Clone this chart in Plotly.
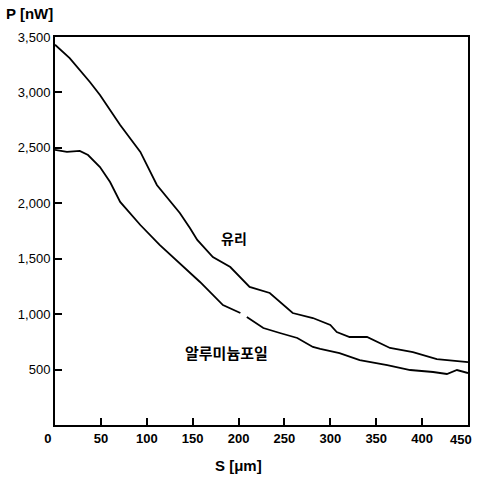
import plotly.graph_objects as go

# Upper curve (유리 / glass)
glass_x = [0, 16, 38, 49, 71, 93, 111, 136, 147, 155, 172, 191, 212, 234, 259, 281, 300, 307, 321, 340, 365, 390, 416, 450]
glass_y = [3430, 3310, 3094, 2977, 2706, 2463, 2165, 1912, 1777, 1669, 1515, 1425, 1245, 1191, 1010, 965, 902, 839, 794, 794, 695, 658, 595, 568]

# Lower curve (알루미늄포일 / aluminium foil), small gap near 205 um
foil_x = [0, 13, 27, 36, 49, 60, 71, 93, 114, 136, 158, 183, 202, 205, 209, 227, 245, 264, 281, 289, 310, 332, 362, 387, 412, 427, 438, 450]
foil_y = [2481, 2463, 2472, 2435, 2327, 2192, 2012, 1804, 1624, 1461, 1290, 1082, 1010, None, 974, 875, 830, 785, 704, 686, 649, 586, 541, 496, 478, 460, 496, 469]

x_ticks = [0, 50, 100, 150, 200, 250, 300, 350, 400, 450]
x_labels = ["0", "50", "100", "150", "200", "250", "300", "350", "400", "450"]
y_ticks = [500, 1000, 1500, 2000, 2500, 3000, 3500]

font_family = "Liberation Sans, Arial"

# first label sits left of the origin; last label is drawn right-aligned at the edge
tick_text = [x_labels[0] + "\u00a0\u00a0\u00a0\u00a0"] + x_labels[1:-1] + [""]

fig = go.Figure()
fig.add_trace(go.Scatter(x=glass_x, y=glass_y, mode="lines",
                         line=dict(color="black", width=1.8), showlegend=False))
fig.add_trace(go.Scatter(x=foil_x, y=foil_y, mode="lines", connectgaps=False,
                         line=dict(color="black", width=1.8), showlegend=False))

fig.update_layout(
    width=479, height=481,
    margin=dict(l=55, r=11, t=37, b=56, autoexpand=False),
    paper_bgcolor="white", plot_bgcolor="white",
    font=dict(family=font_family, size=13, color="black"),
    xaxis=dict(range=[0, 450], tickvals=x_ticks, ticktext=tick_text, ticks="inside",
               ticklen=7, tickwidth=1.5, tickcolor="black", showgrid=False,
               zeroline=False, showline=True, linecolor="black", linewidth=2,
               mirror=True, automargin=False, ticklabeloverflow="allow",
               tickfont=dict(size=13, family=font_family, weight="bold")),
    yaxis=dict(range=[0, 3500], tickvals=y_ticks, tickformat=",", ticks="inside",
               ticklen=7, tickwidth=1.5, tickcolor="black", showgrid=False,
               zeroline=False, showline=True, linecolor="black", linewidth=2,
               mirror=True, automargin=False, ticklabeloverflow="allow",
               tickfont=dict(size=13, family=font_family)),
    annotations=[
        dict(text="<b>" + x_labels[-1] + "</b>", x=x_ticks[-1], xref="x",
             yref="paper", y=0, yanchor="top", yshift=-5, xanchor="right",
             xshift=6, showarrow=False,
             font=dict(size=13, family=font_family)),
        dict(text="<b>P [nW]</b>", xref="paper", yref="paper", x=-0.123, y=1.06,
             xanchor="left", yanchor="middle", showarrow=False,
             font=dict(size=15, family=font_family)),
        dict(text="<b>S [μm]</b>", xref="paper", yref="paper", x=0.445, y=-0.105,
             xanchor="center", yanchor="middle", showarrow=False,
             font=dict(size=15, family=font_family)),
        dict(text="<b>유리</b>", x=195, y=1686, showarrow=False,
             font=dict(size=14, family="Noto Sans CJK KR")),
        dict(text="<b>알루미늄포일</b>", x=187, y=650, showarrow=False,
             font=dict(size=15, family="Noto Sans CJK KR")),
    ],
)

fig.write_html("out.html", config={"displayModeBar": False},
               post_script="document.body.style.margin='0';")
